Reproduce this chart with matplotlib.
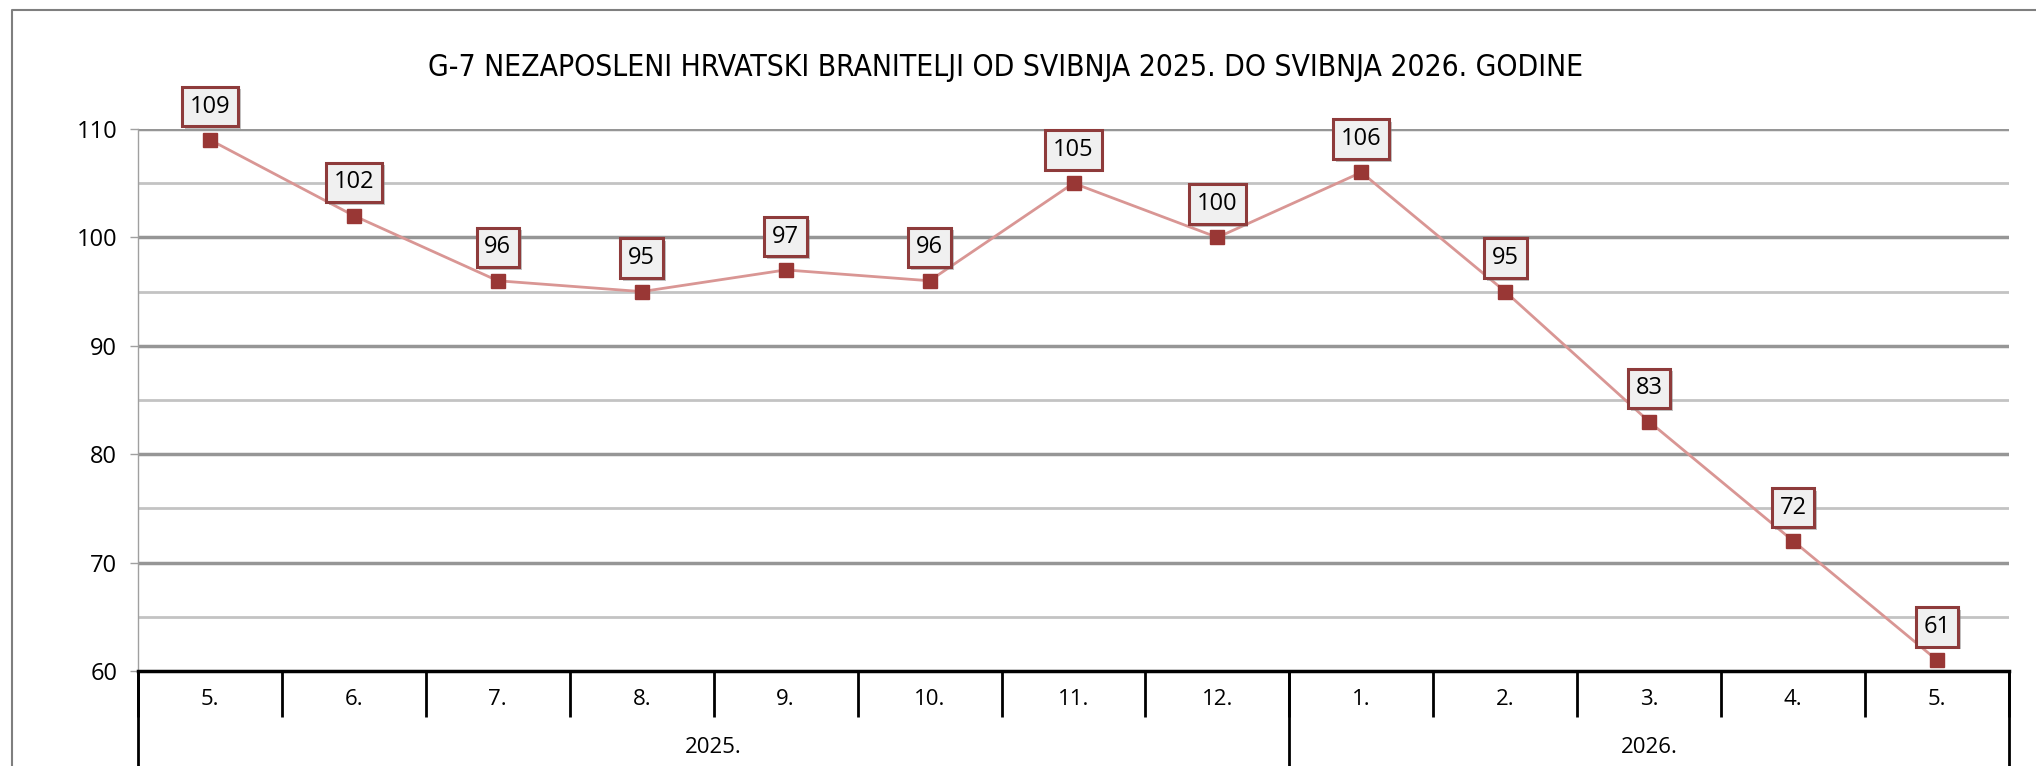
import matplotlib
matplotlib.use("Agg")
import matplotlib.pyplot as plt
import matplotlib.patheffects as pe
from matplotlib.lines import Line2D
import numpy as np

# podaci
months = ["5.", "6.", "7.", "8.", "9.", "10.", "11.", "12.", "1.", "2.", "3.", "4.", "5."]
values = [109, 102, 96, 95, 97, 96, 105, 100, 106, 95, 83, 72, 61]
years = ["2025.", "2026."]
months_per_year = [8, 5]

title = "G-7 NEZAPOSLENI HRVATSKI BRANITELJI OD SVIBNJA 2025. DO SVIBNJA 2026. GODINE"

fig = plt.figure(figsize=(20.36, 7.66), dpi=100)
ax = fig.add_axes([138 / 2036, 1 - 671 / 766, (2009 - 138) / 2036, (671 - 129) / 766])

x = np.arange(len(values))
ax.set_xlim(-0.5, len(values) - 0.5)
ax.set_ylim(60, 110)

# mreza
for yv in range(65, 111, 5):
    if yv % 10 == 0:
        ax.axhline(yv, color="#969696", lw=2.5, zorder=1)
    else:
        ax.axhline(yv, color="#C3C3C3", lw=2, zorder=1)

ax.plot(x, values, color="#D99694", lw=2, zorder=3)
ax.plot(x, values, ls="none", marker="s", ms=10, color="#993735", zorder=4)

for xi, v in zip(x, values):
    t = ax.annotate(str(v), (xi, v), xytext=(0, 24), textcoords="offset points",
                    ha="center", va="center", fontsize=17, family="Open Sans",
                    zorder=5, annotation_clip=False,
                    bbox=dict(boxstyle="square,pad=0.33", fc="#F0F0F0", ec="#8E3B3B", lw=2.2))
    t.get_bbox_patch().set_path_effects([
        pe.SimplePatchShadow(offset=(2, -2), shadow_rgbFace="#888888", alpha=0.5),
        pe.Normal()])

# osi
ax.set_xticks([])
ax.set_yticks(range(60, 111, 10))
ax.set_yticklabels([str(v) for v in range(60, 111, 10)], fontsize=17, family="Open Sans")
ax.tick_params(axis="y", length=6, width=1, color="#A0A0A0", pad=9)
for s in ["top", "right"]:
    ax.spines[s].set_visible(False)
ax.spines["left"].set_color("#A0A0A0")
ax.spines["left"].set_linewidth(1)
ax.spines["bottom"].set_color("black")
ax.spines["bottom"].set_linewidth(2.5)

# kategorije mjeseci i godina
for i, m in enumerate(months):
    ax.text(i, -0.0535, m, transform=ax.get_xaxis_transform(), ha="center", va="center",
            fontsize=16, family="Open Sans")
for k in range(len(months) + 1):
    ax.plot([k - 0.5, k - 0.5], [0, -0.085], transform=ax.get_xaxis_transform(),
            color="black", lw=2, clip_on=False, solid_capstyle="butt")

start = 0
edges = [0]
for yr, n in zip(years, months_per_year):
    ax.text(start + n / 2 - 0.5, -0.142, yr, transform=ax.get_xaxis_transform(),
            ha="center", va="center", fontsize=16, family="Open Sans")
    start += n
    edges.append(start)
for e in edges:
    ax.plot([e - 0.5, e - 0.5], [0, -0.25], transform=ax.get_xaxis_transform(),
            color="black", lw=2, clip_on=False, solid_capstyle="butt")

fig.text(1006 / 2036, 1 - 68 / 766, title, ha="center", va="center", fontsize=21.5,
         family="DejaVu Sans", stretch="condensed", weight="medium")

# okvir
fig.add_artist(Line2D([12 / 2036, 12 / 2036, 1], [0, 1 - 10 / 766, 1 - 10 / 766],
                      color="#7F7F7F", lw=1.5))

fig.savefig("out.png", dpi=100)
